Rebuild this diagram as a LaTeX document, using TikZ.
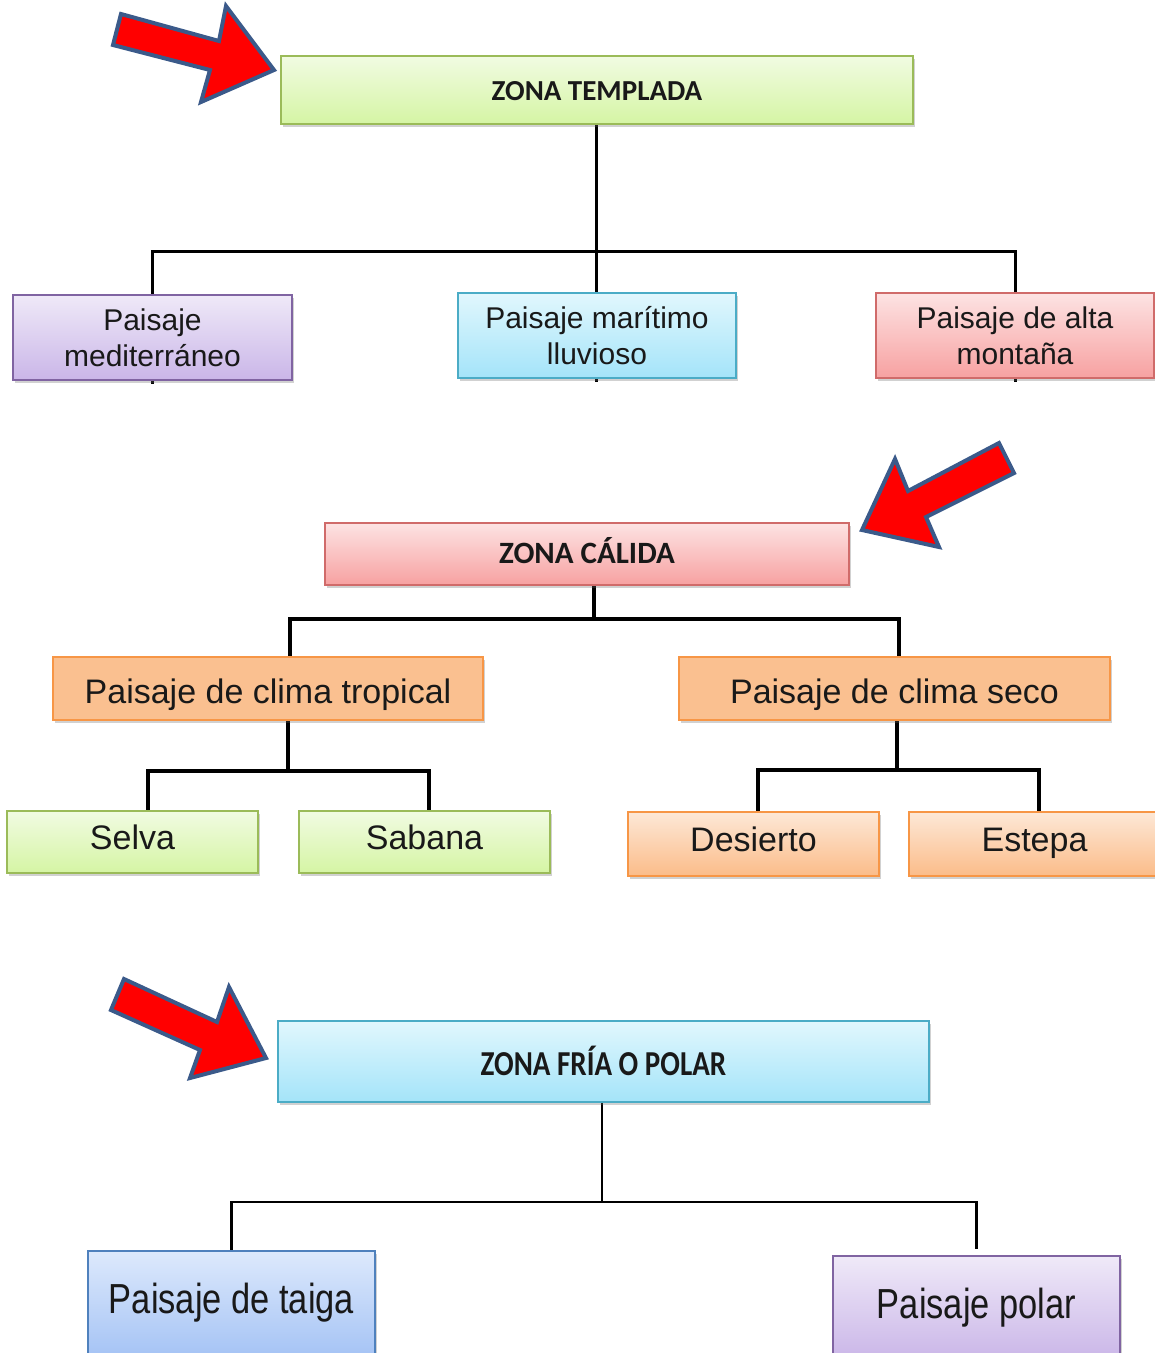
\documentclass[tikz,border=0pt]{standalone}
\usepackage{fontspec}
\setmainfont{Liberation Sans}
\newfontfamily\calfont{Carlito}
\newfontfamily\calnarrow{Carlito}[FakeStretch=0.83]
\newfontfamily\narrowfont{Liberation Sans}[FakeStretch=0.82]
\usetikzlibrary{shadows}
\pgfdeclarelayer{background}
\pgfsetlayers{background,main}
\definecolor{grB}{HTML}{9BBB59}\definecolor{grT}{HTML}{F1FBE2}\definecolor{grD}{HTML}{D5F5A4}
\definecolor{puB}{HTML}{8064A2}\definecolor{puT}{HTML}{EFE9F8}\definecolor{puD}{HTML}{CAB6E8}
\definecolor{cyB}{HTML}{4BACC6}\definecolor{cyT}{HTML}{E1F7FD}\definecolor{cyD}{HTML}{A4E4F9}
\definecolor{reB}{HTML}{D06B6A}\definecolor{reT}{HTML}{FDE3E3}\definecolor{reD}{HTML}{F7A1A1}
\definecolor{orB}{HTML}{F79646}\definecolor{orF}{HTML}{FAC090}\definecolor{orT}{HTML}{FDE8D7}\definecolor{orD}{HTML}{FBBC89}
\definecolor{blB}{HTML}{4F81BD}\definecolor{blT}{HTML}{DDE9FC}\definecolor{blD}{HTML}{A6C4F5}
\definecolor{arrowblue}{HTML}{3B5A8A}
\tikzset{
  box/.style={rectangle, inner sep=0pt, align=center, text=black!90,
    drop shadow={shadow xshift=1.5pt, shadow yshift=-3pt, opacity=0.3, fill=black!60}},
  greenbox/.style={box, top color=grT, bottom color=grD, draw=grB, line width=1.2pt},
  purplebox/.style={box, top color=puT, bottom color=puD, draw=puB, line width=1.2pt},
  cyanbox/.style={box, top color=cyT, bottom color=cyD, draw=cyB, line width=1.2pt},
  redbox/.style={box, top color=reT, bottom color=reD, draw=reB, line width=1.2pt},
  orangeflat/.style={box, fill=orF, draw=orB, line width=1.2pt},
  orangegrad/.style={box, top color=orT, bottom color=orD, draw=orB, line width=1.2pt},
  bluebox/.style={box, top color=blT, bottom color=blD, draw=blB, line width=1.2pt},
  zonatxt/.style={text height=20pt, text depth=0pt, font=\calfont\bfseries\fontsize{29}{34}\selectfont},
  calidatxt/.style={text height=18pt, text depth=0pt, font=\calfont\bfseries\fontsize{31}{36}\selectfont},
  friatxt/.style={text height=27pt, text depth=0pt, font=\calnarrow\bfseries\fontsize{35}{40}\selectfont},
  smalltxt/.style={font=\fontsize{30}{36}\selectfont},
  bigtxt/.style={text height=24pt, text depth=10pt, font=\fontsize{34}{40}\selectfont},
  midtxt/.style={text height=29pt, text depth=0pt, font=\fontsize{34}{40}\selectfont},
  narrowtxt/.style={text height=20pt, text depth=0pt, font=\narrowfont\fontsize{42}{48}\selectfont},
  conA/.style={line width=3pt, black},
  conB/.style={line width=4.5pt, black},
  conC/.style={line width=2.5pt, black},
  redarrow/.style={fill=red, draw=arrowblue, line width=4pt, line join=miter}
}
\begin{document}
\begin{tikzpicture}[x=1pt, y=-1pt]
\clip (0,0) rectangle (1155,1353);

% ---------- ZONA TEMPLADA ----------
\node[greenbox, zonatxt, minimum width=632pt, minimum height=68pt] (zt) at (597,90) {ZONA TEMPLADA};
\node[purplebox, smalltxt, minimum width=279pt, minimum height=85pt] (pmed) at (152.5,337.5) {Paisaje\\mediterráneo};
\node[cyanbox, smalltxt, minimum width=278pt, minimum height=85pt] (pmar) at (597,335.5) {Paisaje marítimo\\lluvioso};
\node[redbox, smalltxt, minimum width=278pt, minimum height=85pt] (palt) at (1015,335.5) {Paisaje de alta\\montaña};
\coordinate (j1) at (596,251);
\begin{pgfonlayer}{background}
\draw[conA] (zt.south -| j1) -- (j1);
\draw[conA] (j1) -| ([yshift=-3pt]pmed.south);
\draw[conA] (j1) -- ([yshift=-3pt]pmar.south -| j1);
\draw[conA] (j1) -| ([yshift=-3pt]palt.south);
\end{pgfonlayer}
\filldraw[redarrow] (121,14) -- (219,41) -- (226,6) -- (274,70) -- (201,102) -- (210,70) -- (113,45) -- cycle;

% ---------- ZONA CALIDA ----------
\node[redbox, calidatxt, minimum width=524pt, minimum height=62pt] (zc) at (587,554) {ZONA CÁLIDA};
\node[orangeflat, midtxt, minimum width=430pt, minimum height=63pt] (ptrop) at (268,688.5) {Paisaje de clima tropical};
\node[orangeflat, midtxt, minimum width=431pt, minimum height=63pt] (pseco) at (894.5,688.5) {Paisaje de clima seco};
\node[greenbox, bigtxt, minimum width=251pt, minimum height=62pt] (selva) at (132.5,842) {Selva};
\node[greenbox, bigtxt, minimum width=251pt, minimum height=62pt] (sabana) at (424.5,842) {Sabana};
\node[orangegrad, bigtxt, minimum width=251pt, minimum height=64pt] (desierto) at (753.5,844) {Desierto};
\node[orangegrad, bigtxt, minimum width=251pt, minimum height=64pt] (estepa) at (1034.5,844) {Estepa};
\coordinate (j2) at (594,619);
\coordinate (j3) at (288,771);
\coordinate (j4) at (897,770);
\begin{pgfonlayer}{background}
\draw[conB] (zc.south -| j2) -- (j2);
\draw[conB] (j2) -| (ptrop.north -| 290,0);
\draw[conB] (j2) -| (pseco.north -| 899,0);
\draw[conB] (ptrop.south -| j3) -- (j3);
\draw[conB] (j3) -| (selva.north -| 148,0);
\draw[conB] (j3) -| (sabana.north -| 429,0);
\draw[conB] (pseco.south -| j4) -- (j4);
\draw[conB] (j4) -| (desierto.north -| 758,0);
\draw[conB] (j4) -| (estepa.north -| 1039,0);
\end{pgfonlayer}
\filldraw[redarrow] (999,443) -- (908,491) -- (895,459) -- (862,530) -- (939,547) -- (926,517) -- (1014,473) -- cycle;

% ---------- ZONA FRIA ----------
\node[cyanbox, friatxt, minimum width=651pt, minimum height=81pt] (zf) at (603.5,1061.5) {ZONA FRÍA O POLAR};
\node[bluebox, narrowtxt, minimum width=287pt, minimum height=104pt] (taiga) at (231.5,1303) {Paisaje de taiga};
\node[purplebox, narrowtxt, minimum width=287pt, minimum height=104pt] (polar) at (976.5,1308) {Paisaje polar};
\coordinate (j5) at (602,1202);
\begin{pgfonlayer}{background}
\draw[conC] (zf.south -| j5) -- (j5);
\draw[conC] (j5) -| (taiga.north);
\draw[conC] (j5) -| ([yshift=6pt]polar.north);
\end{pgfonlayer}
\filldraw[redarrow] (124,979) -- (217,1022) -- (229,987) -- (266,1058) -- (190,1078) -- (200,1050) -- (111,1010) -- cycle;
\end{tikzpicture}
\end{document}
